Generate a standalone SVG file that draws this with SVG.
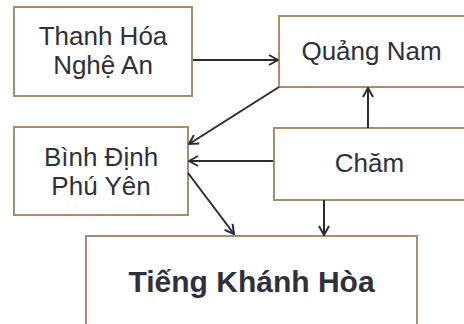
<svg xmlns="http://www.w3.org/2000/svg" width="464" height="324" viewBox="0 0 464 324">
<style>
.box{fill:#ffffff;stroke:#a88f6c;stroke-width:2}
.t{font-family:"Liberation Sans",Arial,sans-serif;font-size:26px;fill:#30303a;text-anchor:middle}
.b{font-weight:bold;font-size:30px}
.c{stroke:#2b2b35;stroke-width:2;fill:none;marker-end:url(#ah)}
</style>
<defs>
<marker id="ah" viewBox="0 0 12 12" refX="11" refY="6" markerWidth="12" markerHeight="12" markerUnits="userSpaceOnUse" orient="auto">
<path d="M2,1 L11,6 L2,11" fill="none" stroke="#2b2b35" stroke-width="2"/>
</marker>
</defs>
<rect width="464" height="324" fill="#ffffff"/>
<g id="thanhhoa">
<rect class="box" x="14" y="7" width="178" height="89"/>
<text class="t" x="103" y="45"><tspan x="103" y="45">Thanh Hóa</tspan><tspan x="103" y="74">Nghệ An</tspan></text>
</g>
<g id="quangnam">
<rect class="box" x="279" y="16" width="190" height="71"/>
<text class="t" x="371.5" y="60">Quảng Nam</text>
</g>
<g id="binhdinh">
<rect class="box" x="14" y="127" width="174" height="88"/>
<text class="t" x="101" y="166"><tspan x="101" y="166">Bình Định</tspan><tspan x="101" y="195">Phú Yên</tspan></text>
</g>
<g id="cham">
<rect class="box" x="274" y="128" width="195" height="72"/>
<text class="t" x="369.5" y="172">Chăm</text>
</g>
<g id="tieng">
<rect class="box" x="86" y="236" width="331" height="96"/>
<text class="t b" x="251.5" y="292">Tiếng Khánh Hòa</text>
</g>
<g id="connectors">
<line class="c" x1="193" y1="60" x2="278" y2="60"/>
<line class="c" x1="279" y1="87" x2="189" y2="144"/>
<line class="c" x1="273" y1="161" x2="189" y2="161"/>
<line class="c" x1="368" y1="128" x2="368" y2="88"/>
<line class="c" x1="324" y1="200" x2="324" y2="235"/>
<line class="c" x1="188" y1="173" x2="234" y2="234"/>
</g>
</svg>
